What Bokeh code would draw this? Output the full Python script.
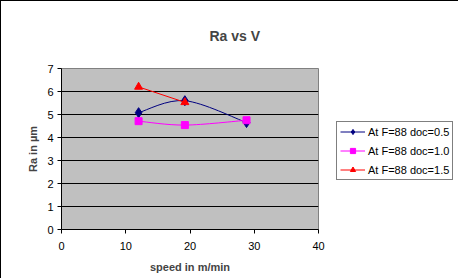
from bokeh.plotting import figure
from bokeh.layouts import row
from bokeh.models import Legend, LegendItem, Range1d, FixedTicker, Title
from bokeh.embed import file_html
from bokeh.resources import INLINE

# ---- data ----
speed_doc05 = [12, 19.2, 28.8]
ra_doc05 = [5.08, 5.6, 4.65]
speed_doc10 = [12, 19.2, 28.8]
ra_doc10 = [4.71, 4.54, 4.75]
speed_doc15 = [12, 19.2]
ra_doc15 = [6.2, 5.53]
series_labels = ["At F=88 doc=0.5", "At F=88 doc=1.0", "At F=88 doc=1.5"]
x_ticks = [0, 10, 20, 30, 40]
y_ticks = [0, 1, 2, 3, 4, 5, 6, 7]

FONT = "Liberation Sans"
NAVY, MAGENTA, RED = "#000080", "#FF00FF", "#FF0000"


def smooth_segments(xs, ys):
    """Bezier control points for an Excel-like smoothed line through the points."""
    n = len(xs)
    out = dict(x0=[], y0=[], x1=[], y1=[], cx0=[], cy0=[], cx1=[], cy1=[])
    for i in range(n - 1):
        xp, yp = (xs[i - 1], ys[i - 1]) if i > 0 else (xs[i], ys[i])
        xn, yn = (xs[i + 2], ys[i + 2]) if i + 2 < n else (xs[i + 1], ys[i + 1])
        out["x0"].append(xs[i]); out["y0"].append(ys[i])
        out["x1"].append(xs[i + 1]); out["y1"].append(ys[i + 1])
        out["cx0"].append(xs[i] + (xs[i + 1] - xp) / 6)
        out["cy0"].append(ys[i] + (ys[i + 1] - yp) / 6)
        out["cx1"].append(xs[i + 1] - (xn - xs[i]) / 6)
        out["cy1"].append(ys[i + 1] - (yn - ys[i]) / 6)
    return out


def draw_series(fig, visible=True):
    rs = []
    b05 = fig.bezier(line_color=NAVY, line_width=1, visible=visible,
                     **smooth_segments(speed_doc05, ra_doc05))
    s05 = fig.scatter(speed_doc05, ra_doc05, marker="diamond", size=10,
                      fill_color=NAVY, line_color=NAVY, visible=visible)
    rs.append([b05, s05])
    b10 = fig.bezier(line_color=MAGENTA, line_width=1, visible=visible,
                     **smooth_segments(speed_doc10, ra_doc10))
    s10 = fig.scatter(speed_doc10, ra_doc10, marker="square", size=7,
                      fill_color=MAGENTA, line_color=MAGENTA, visible=visible)
    rs.append([b10, s10])
    l15 = fig.line(speed_doc15, ra_doc15, line_color=RED, line_width=1, visible=visible)
    s15 = fig.scatter(speed_doc15, ra_doc15, marker="triangle", size=8,
                      fill_color=RED, line_color=RED, visible=visible)
    rs.append([l15, s15])
    return rs


# ---------------- main chart ----------------
p = figure(width=328, height=278, output_backend="svg", toolbar_location=None, title=None,
           x_range=Range1d(0, 40), y_range=Range1d(0, 7),
           min_border_left=60, min_border_right=11, min_border_top=67, min_border_bottom=50)
p.styles = {"border-left": "1px solid black", "border-top": "1px solid black"}

p.background_fill_color = "#C0C0C0"
p.border_fill_color = "white"
p.outline_line_color = "#808080"
p.outline_line_width = 1

title_gap = Title(text=" ", text_font_size="1px", standoff=12)
p.add_layout(title_gap, "above")
main_title = Title(text="Ra vs V", text_font=FONT, text_font_size="14px",
                   text_font_style="bold", align="left", offset=148, standoff=20)
p.add_layout(main_title, "above")

p.xgrid.visible = False
p.ygrid.ticker = FixedTicker(ticks=y_ticks)
p.ygrid.grid_line_color = "black"
p.ygrid.grid_line_width = 1

for ax in (p.xaxis, p.yaxis):
    ax.major_label_text_font = FONT
    ax.major_label_text_font_size = "11px"
    ax.major_label_text_color = "black"
    ax.axis_label_text_font = FONT
    ax.axis_label_text_font_size = "11px"
    ax.axis_label_text_font_style = "bold"
    ax.axis_line_color = "black"
    ax.major_tick_line_color = "black"
    ax.major_tick_in = 0
    ax.major_tick_out = 4
    ax.minor_tick_line_color = None

p.xaxis.ticker = FixedTicker(ticks=x_ticks)
p.yaxis.ticker = FixedTicker(ticks=y_ticks)
p.xaxis.axis_label = "speed in m/min"
p.yaxis.axis_label = "Ra in µm"
p.xaxis.major_label_standoff = 8
p.xaxis.axis_label_standoff = 8
p.yaxis.major_label_standoff = 4
p.yaxis.axis_label_standoff = 5

draw_series(p)

# ---------------- legend panel ----------------
q = figure(width=130, height=278, output_backend="svg", toolbar_location=None,
           x_range=Range1d(0, 40), y_range=Range1d(0, 7), min_border=0)
q.styles = {"border-top": "1px solid black"}
q.xaxis.visible = False
q.yaxis.visible = False
q.grid.visible = False
q.outline_line_color = None
q.background_fill_color = "white"
q.border_fill_color = "white"

legend_rs = draw_series(q, visible=False)
items = [LegendItem(label=lab, renderers=rs) for lab, rs in zip(series_labels, legend_rs)]
legend = Legend(items=items, location=(8, 49))
legend.border_line_color = "black"
legend.border_line_width = 1
legend.background_fill_color = "white"
legend.background_fill_alpha = 1
legend.inactive_fill_alpha = 0
legend.label_text_font = FONT
legend.label_text_font_size = "11px"
legend.label_text_color = "black"
legend.glyph_width = 25
legend.glyph_height = 13
legend.label_height = 13
legend.label_standoff = 3
legend.spacing = 6
legend.padding = 3
legend.margin = 0
q.add_layout(legend)

layout = row(p, q)

open("out.html", "w").write(file_html(layout, INLINE))
